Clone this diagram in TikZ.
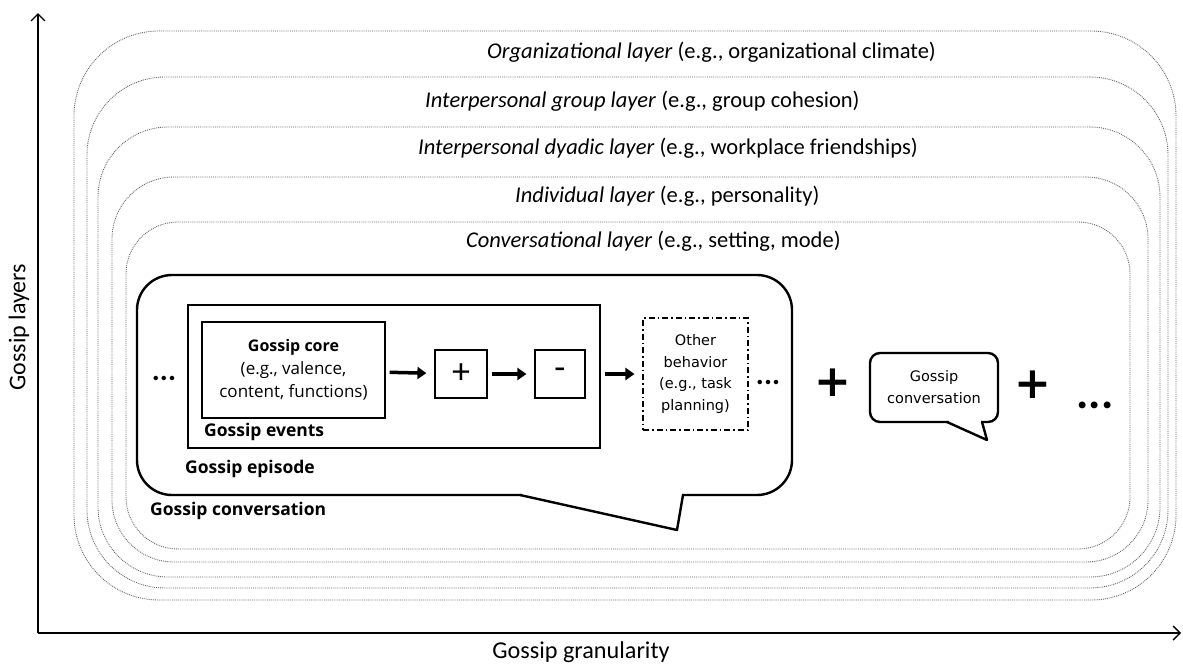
\documentclass[tikz,border=0pt]{standalone}
\usepackage{fontspec}
\setmainfont{Carlito}
\newfontfamily\vfont{DejaVu Sans}
\newfontfamily\ofont{Open Sans}
\usetikzlibrary{arrows.meta}
\tikzset{
  layer/.style={draw=black!60, densely dotted, line width=0.9pt, rounded corners=#1, inner sep=0pt},
  lbl/.style={font=\fontsize{22.5}{26}\selectfont, anchor=west, inner sep=0pt},
  bl/.style={font=\ofont\bfseries\fontsize{17.5}{20}\selectfont, anchor=west, inner sep=0pt},
  box/.style={draw, line width=1.2pt, inner sep=0pt},
  flow/.style={-{Triangle[length=9pt,width=12pt]}, line width=3.5pt, shorten <=4pt, shorten >=8pt},
  axis/.style={line width=1.4pt, -{Straight Barb[length=7pt,width=14pt]}},
  bubble/.style={draw, line width=2.4pt, inner sep=0pt},
  bigsign/.style={font=\vfont\bfseries\fontsize{44}{44}\selectfont, inner sep=0pt},
  dots/.style={font=\bfseries\fontsize{30}{30}\selectfont, anchor=base, inner sep=0pt},
  dashdotbox/.style={draw, line width=1.1pt, dash pattern=on 6pt off 3pt on 1.5pt off 3pt, inner sep=0pt}
}
\begin{document}
\begin{tikzpicture}[x=1pt,y=-1pt]
\useasboundingbox (0,0) rectangle (1183,664);
% axes
\coordinate (O) at (38,633);
\coordinate (ytop) at (38,13);
\coordinate (xend) at (1181,633);
\draw[axis] (O) -- (ytop);
\draw[axis] (O) -- (xend);
\node[rotate=90, font=\fontsize{24}{24}\selectfont, inner sep=0pt] (ylab) at (19,327) {Gossip layers};
\node[font=\fontsize{24.2}{24}\selectfont, inner sep=0pt] (xlab) at (581,652) {Gossip granularity};
% layers
\node[layer=85, minimum width=1102pt, minimum height=569pt] (org) at (625,315.5) {};
\node[layer=78, minimum width=1081pt, minimum height=511pt] (grp) at (627.5,332.5) {};
\node[layer=70, minimum width=1062pt, minimum height=450pt] (dya) at (629,352) {};
\node[layer=62, minimum width=1036pt, minimum height=385pt] (ind) at (630,369.5) {};
\node[layer=52, minimum width=1004pt, minimum height=327pt] (conv) at (628,385.5) {};
\node[lbl] (orgl) at (487,52) {\textit{Organizational layer} (e.g., organizational climate)};
\node[lbl] (grpl) at (425,101) {\textit{Interpersonal group layer} (e.g., group cohesion)};
\node[lbl] (dyal) at (418,148) {\textit{Interpersonal dyadic layer} (e.g., workplace friendships)};
\node[lbl] (indl) at (515,196) {\textit{Individual layer} (e.g., personality)};
\node[lbl] (convl) at (466,241) {\textit{Conversational layer} (e.g., setting, mode)};
% big bubble
\node[bubble, rounded corners=35, minimum width=655pt, minimum height=220pt] (bub) at (464.5,385) {};
\coordinate (ta) at (520,495);
\coordinate (tb) at (677,530);
\coordinate (tc) at (683,495);
\fill[white] (521.5,491) rectangle (681.5,499);
\draw[line width=2.4pt, line join=round, line cap=round] (ta) -- (tb) -- (tc);
% events
\node[box, minimum width=412pt, minimum height=143pt] (events) at (394,376.5) {};
\node[box, minimum width=183pt, minimum height=96pt, align=center, font=\ofont\fontsize{17}{23}\selectfont] (core) at (293.5,370) {{\bfseries\fontsize{16}{23}\selectfont Gossip core}\\(e.g., valence,\\content, functions)};
\node[box, minimum width=52pt, minimum height=48pt, font=\fontsize{36}{36}\selectfont] (plus) at (461,374) {+};
\node[box, minimum width=50pt, minimum height=48pt, font=\fontsize{36}{36}\selectfont] (minus) at (560,374) {-};
\node[dashdotbox, minimum width=105pt, minimum height=112pt, align=center, font=\vfont\fontsize{14.5}{21.5}\selectfont] (other) at (695.5,374) {Other\\behavior\\(e.g., task\\planning)};
\draw[flow] (core) -- (plus);
\draw[flow] (plus) -- (minus);
\draw[flow] (events.east |- other.west) -- (other.west);
\node[bl] (evl) at (204,432) {Gossip events};
\node[bl] (epl) at (185,469) {Gossip episode};
\node[bl] (cvl) at (150,511) {Gossip conversation};
\node[dots] (d1) at (164,380) {...};
\node[dots] (d2) at (768,384) {...};
% right part
\node[bigsign] (p1) at (833,383) {+};
\node[bubble, rounded corners=10, minimum width=128pt, minimum height=69pt, align=center, font=\vfont\fontsize{14.5}{22}\selectfont] (sb) at (934,387.5) {Gossip\\conversation};
\coordinate (sa) at (947,422);
\coordinate (sbt) at (987,440);
\coordinate (sc) at (982,422);
\fill[white] (948.5,418) rectangle (980.5,426);
\draw[line width=2.4pt, line join=round, line cap=round] (sa) -- (sbt) -- (sc);
\node[bigsign] (p2) at (1033,385) {+};
\node[dots, font=\bfseries\fontsize{46}{46}\selectfont] (d3) at (1095,408) {...};
\end{tikzpicture}
\end{document}
